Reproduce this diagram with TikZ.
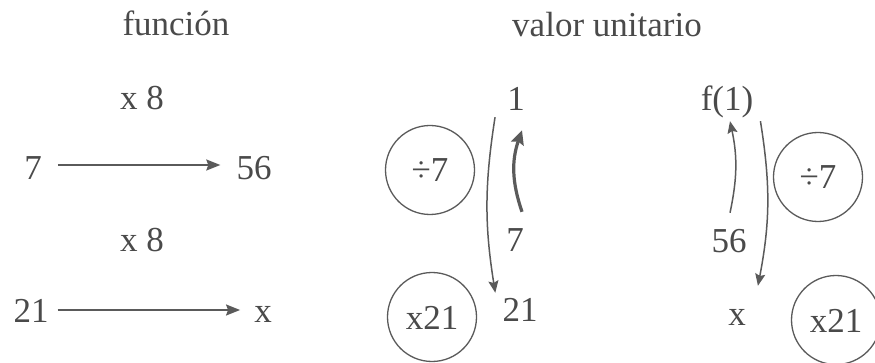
\documentclass[tikz,border=0pt]{standalone}
\usepackage{fontspec}
\setmainfont{Liberation Serif}
\usetikzlibrary{arrows.meta}
\definecolor{ink}{HTML}{4A4A4A}
\definecolor{lin}{HTML}{5A5A5A}
\begin{document}
\begin{tikzpicture}[x=1pt,y=-1pt,
  txt/.style={text=ink,inner sep=2pt,text height=25pt,text depth=1pt,anchor=base,font=\fontsize{35}{40}\selectfont},
  circ/.style={draw=lin,line width=1.3pt,circle,minimum size=89pt,inner sep=0pt,text=ink,text height=25pt,text depth=1pt,font=\fontsize{35}{40}\selectfont},
  arr/.style={draw=lin,line width=1.8pt,-{Stealth[length=14pt,width=11pt,inset=2pt]}},
  thin/.style={draw=lin,line width=1.5pt,-{Stealth[length=12pt,width=10pt,inset=2pt]}},
  thick/.style={draw=lin,line width=3.2pt,-{Stealth[length=14pt,width=13pt,inset=2pt]}}]
\useasboundingbox (0,0) rectangle (875,363);
% headers
\node[txt] (h1) at (176,36) {función};
\node[txt] (h2) at (607,37) {valor unitario};
% left part
\node[txt] (m8a) at (142,110) {x 8};
\node[txt] (a7) at (33,180) {7};
\node[txt] (a56) at (254,180) {56};
\node[txt] (m8b) at (142,252) {x 8};
\node[txt] (a21) at (31,322) {21};
\node[txt] (ax) at (263,322) {x};
\draw[arr,shorten <=14pt,shorten >=14pt] ([yshift=3pt]a7.east) -- ([yshift=3pt]a56.west);
\draw[arr,shorten <=7pt,shorten >=12pt] (a21.east) -- (ax.west);
% middle part
\node[txt] (m1) at (516,111) {1};
\node[txt] (m7) at (515,252) {7};
\node[txt] (m21) at (520,321) {21};
\node[circ] (c1) at (430,170) {÷7};
\node[circ] (c2) at (432,317) {x21};
\draw[thin] ([xshift=-10pt,yshift=-3pt]m1.south west) to[bend right=9] ([xshift=-5pt,yshift=1pt]m21.north west);
\draw[thick] ([xshift=7pt,yshift=13pt]m7.north) to[bend left=19] ([xshift=6pt,yshift=-16pt]m1.south);
% right part
\node[txt] (rf1) at (727,111) {f(1)};
\node[txt] (r56) at (729,253) {56};
\node[txt] (rx) at (737,325) {x};
\node[circ] (c3) at (818,177) {÷7};
\node[circ] (c4) at (836,320) {x21};
\draw[thin] ([xshift=1pt,yshift=13pt]r56.north) to[bend right=12] ([xshift=3pt,yshift=-7pt]rf1.south);
\draw[thin] ([xshift=5pt,yshift=-7pt]rf1.south east) to[bend left=10] ([xshift=10pt,yshift=12pt]rx.north east);
\end{tikzpicture}
\end{document}
